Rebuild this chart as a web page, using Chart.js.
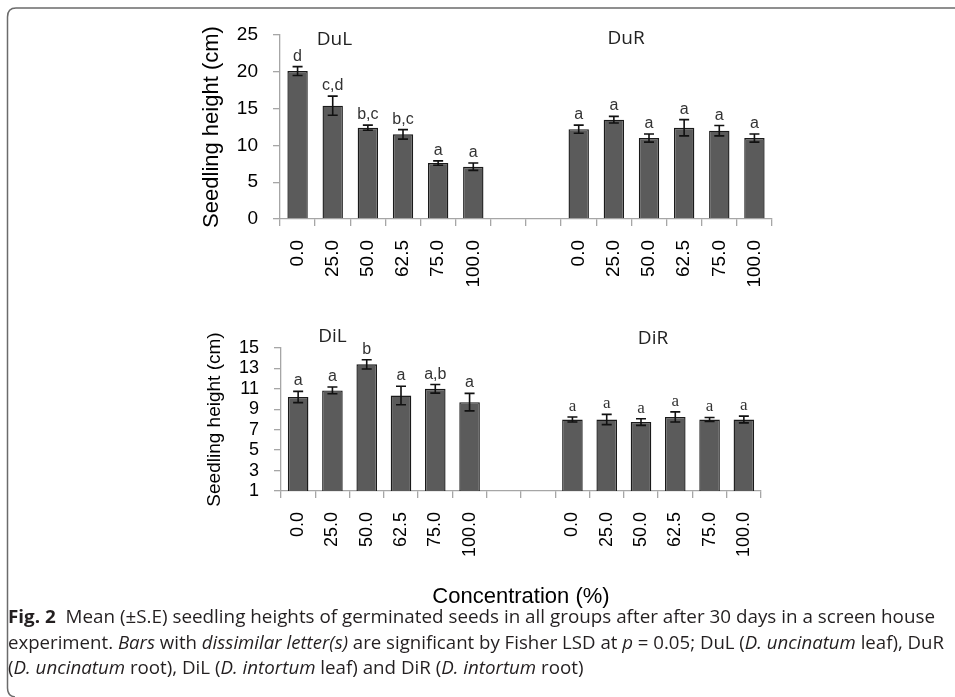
<!DOCTYPE html>
<html>
<head>
<meta charset="utf-8">
<script src="https://cdn.jsdelivr.net/npm/chart.js@4.4.1/dist/chart.umd.min.js"></script>
<style>
  html, body { margin: 0; padding: 0; background: #fff; }
  #page { position: relative; width: 955px; height: 697px; overflow: hidden; background: #fff; }
  canvas { position: absolute; left: 0; }
  #frame { position: absolute; left: 0; top: 0; }
  .cap { position: absolute; left: 8px; white-space: nowrap; font-family: "Open Sans", "Noto Sans", sans-serif;
         font-size: 18.5px; color: #231f20; transform-origin: 0 0; line-height: 20px; }
  .cap b { font-weight: 700; }
</style>
</head>
<body>
<div id="page">
  <canvas id="frame" width="955" height="697"></canvas>
  <canvas id="top" width="955" height="300" style="top:0px"></canvas>
  <canvas id="bottom" width="955" height="312" style="top:300px"></canvas>
  <div class="cap" id="cap1" data-w="927" style="top:606px"><b>Fig. 2</b>&nbsp; Mean (±S.E) seedling heights of germinated seeds in all groups after after 30 days in a screen house</div>
  <div class="cap" id="cap2" data-w="936" style="top:632px">experiment. <i>Bars</i> with <i>dissimilar letter(s)</i> are significant by Fisher LSD at <i>p</i> = 0.05; DuL (<i>D. uncinatum</i> leaf), DuR</div>
  <div class="cap" id="cap3" style="top:657px">(<i>D. uncinatum</i> root), DiL (<i>D. intortum</i> leaf) and DiR (<i>D. intortum</i> root)</div>
</div>
<script>
// ---------------- DATA ----------------
const concentrations = ["0.0", "25.0", "50.0", "62.5", "75.0", "100.0"];
const gapLabels = ["", ""];

const dulMeans = [20.1, 15.4, 12.4, 11.5, 7.6, 7.1];
const dulSE = [0.6, 1.3, 0.35, 0.65, 0.3, 0.5];
const dulLetters = ["d", "c,d", "b,c", "b,c", "a", "a"];

const durMeans = [12.2, 13.5, 11.0, 12.4, 12.0, 11.0];
const durSE = [0.55, 0.45, 0.55, 1.1, 0.7, 0.55];
const durLetters = ["a", "a", "a", "a", "a", "a"];

const dilMeans = [10.2, 10.85, 13.4, 10.35, 11.0, 9.7];
const dilSE = [0.55, 0.33, 0.45, 0.9, 0.42, 0.86];
const dilLetters = ["a", "a", "b", "a", "a,b", "a"];

const dirMeans = [8.0, 8.0, 7.75, 8.25, 8.0, 8.0];
const dirSE = [0.25, 0.5, 0.33, 0.5, 0.2, 0.33];
const dirLetters = ["a", "a", "a", "a", "a", "a"];

const topYTicks = { min: 0, max: 25, step: 5 };
const bottomYTicks = { min: 1, max: 15, step: 2 };
// --------------------------------------

const SANS = "'Liberation Sans', Arial, sans-serif";
const gaps = gapLabels.map(() => null);
const labels = [...concentrations, ...gapLabels, ...concentrations];

// frame
(function () {
  const c = document.getElementById('frame').getContext('2d');
  c.strokeStyle = '#6b6b6b';
  c.lineWidth = 1.5;
  c.beginPath();
  c.moveTo(960, 8);
  c.lineTo(16, 8);
  c.quadraticCurveTo(7.5, 8, 7.5, 17);
  c.lineTo(7.5, 688);
  c.quadraticCurveTo(7.5, 696, 15, 697);
  c.stroke();
})();

const annotPlugin = {
  id: 'annot',
  afterDatasetsDraw(chart, args, opts) {
    const ctx = chart.ctx, xs = chart.scales.x, ys = chart.scales.y;
    const vals = chart.data.datasets[0].data;
    ctx.save();
    vals.forEach((v, i) => {
      if (v == null) return;
      const e = opts.se[i];
      const px = xs.getPixelForValue(i);
      const t = ys.getPixelForValue(v + e), b = ys.getPixelForValue(v - e);
      ctx.strokeStyle = '#111';
      ctx.lineWidth = 1.6;
      ctx.beginPath();
      ctx.moveTo(px, t); ctx.lineTo(px, b);
      ctx.moveTo(px - 5, t); ctx.lineTo(px + 5, t);
      ctx.moveTo(px - 5, b); ctx.lineTo(px + 5, b);
      ctx.stroke();
      ctx.fillStyle = '#333';
      ctx.font = opts.letterFonts[i];
      ctx.textAlign = 'center';
      ctx.textBaseline = 'alphabetic';
      ctx.fillText(opts.letters[i], px, t - 6);
    });
    ctx.fillStyle = '#222';
    ctx.font = opts.titleFont;
    ctx.textAlign = 'center';
    opts.titles.forEach(tt => {
      ctx.fillText(tt.text, xs.getPixelForValue(tt.at), chart.chartArea.top + tt.dy);
    });
    ctx.restore();
  }
};

function makeChart(id, means, se, letters, letterFonts, titles, yt, cfg) {
  return new Chart(document.getElementById(id), {
    type: 'bar',
    data: {
      labels: labels,
      datasets: [{
        data: means,
        backgroundColor: '#5b5b5b',
        borderColor: '#1a1a1a',
        borderWidth: 1.4,
        barPercentage: cfg.barPct,
        categoryPercentage: 1.0
      }]
    },
    options: {
      responsive: false,
      animation: false,
      events: [],
      layout: { padding: { left: cfg.padLeft, right: cfg.padRight, top: cfg.padTop, bottom: 0 } },
      plugins: {
        legend: { display: false },
        tooltip: { enabled: false },
        annot: { se: se, letters: letters, letterFonts: letterFonts, titles: titles, titleFont: "19px 'Open Sans', sans-serif" }
      },
      scales: {
        x: {
          afterFit(s) { s.height = cfg.xHeight; },
          grid: { display: true, drawOnChartArea: false, drawTicks: true, tickLength: 7, color: '#a6a6a6', lineWidth: 1.3, offset: true },
          border: { display: true, color: '#a6a6a6', width: 1.3 },
          ticks: { autoSkip: false, maxRotation: 90, minRotation: 90, padding: 14, color: '#000', font: { family: SANS, size: cfg.xFont } },
          title: cfg.xTitle ? { display: true, text: 'Concentration (%)', color: '#000', font: { family: SANS, size: 22 }, padding: { top: 0, bottom: 2 } } : { display: false }
        },
        y: {
          min: yt.min, max: yt.max,
          afterFit(s) { s.width = cfg.yWidth; },
          grid: { display: true, drawOnChartArea: false, drawTicks: true, tickLength: 7, color: '#a6a6a6', lineWidth: 1.3 },
          border: { display: true, color: '#a6a6a6', width: 1.3 },
          ticks: { stepSize: yt.step, autoSkip: false, padding: 15, color: '#000', font: { family: SANS, size: cfg.yFont, lineHeight: 1.0 } },
          title: { display: true, text: 'Seedling height (cm)', color: '#000', font: { family: SANS, size: cfg.yTitleFont }, padding: { top: 4, bottom: 4 } }
        }
      }
    },
    plugins: [annotPlugin]
  });
}

const arialLetters = new Array(14).fill("16px " + SANS);
const dirFonts = [...new Array(8).fill("16px " + SANS), ...new Array(6).fill("17px 'Liberation Serif', serif")];

makeChart('top',
  [...dulMeans, ...gaps, ...durMeans],
  [...dulSE, ...gaps, ...durSE],
  [...dulLetters, ...gapLabels, ...durLetters],
  arialLetters,
  [{ text: 'DuL', at: 1.05, dy: 10 }, { text: 'DuR', at: 9.35, dy: 9 }],
  topYTicks,
  { padLeft: 195, padRight: 183, padTop: 35, xHeight: 81, yWidth: 85, xFont: 19, yFont: 19, yTitleFont: 22, barPct: 0.58, xTitle: false });

makeChart('bottom',
  [...dilMeans, ...gaps, ...dirMeans],
  [...dilSE, ...gaps, ...dirSE],
  [...dilLetters, ...gapLabels, ...dirLetters],
  dirFonts,
  [{ text: 'DiL', at: 1.0, dy: -6 }, { text: 'DiR', at: 10.35, dy: -4 }],
  bottomYTicks,
  { padLeft: 199, padRight: 194, padTop: 48, xHeight: 121, yWidth: 82, xFont: 18, yFont: 18, yTitleFont: 19, barPct: 0.6, xTitle: true });

// fit caption lines: full lines to their widths, last line uses the mean scale
const capScales = ['cap1', 'cap2'].map(id => {
  const el = document.getElementById(id);
  const s = parseFloat(el.dataset.w) / el.getBoundingClientRect().width;
  el.style.transform = 'scaleX(' + s + ')';
  return s;
});
document.getElementById('cap3').style.transform = 'scaleX(' + ((capScales[0] + capScales[1]) / 2) + ')';
</script>
</body>
</html>
